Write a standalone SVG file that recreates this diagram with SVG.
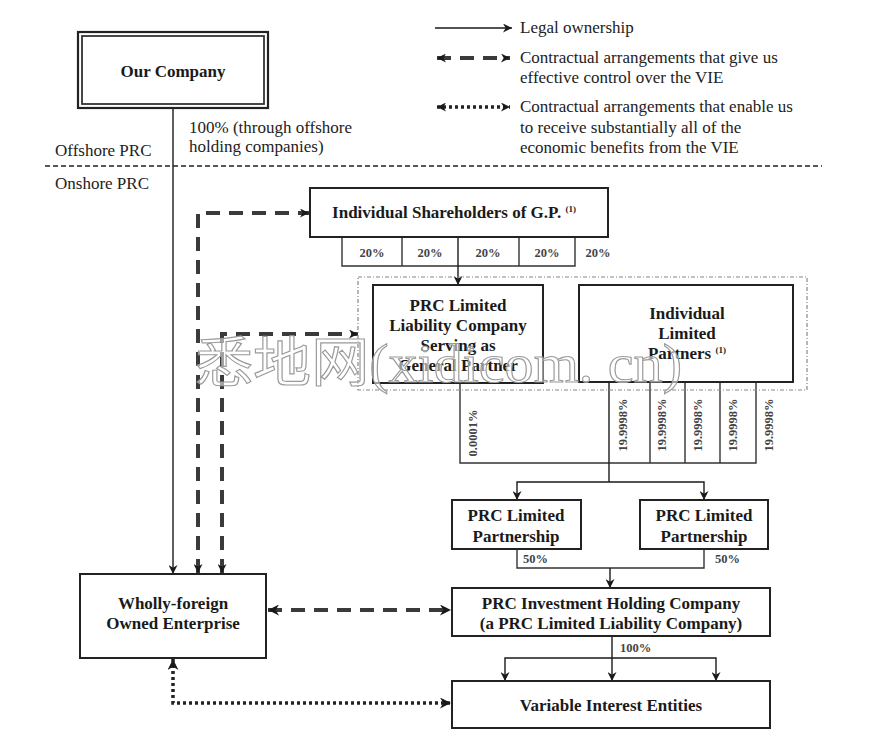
<svg xmlns="http://www.w3.org/2000/svg" width="880" height="744" viewBox="0 0 880 744">
  <defs>
    <marker id="tip" viewBox="0 0 10 10" refX="10" refY="5" markerWidth="9" markerHeight="9" markerUnits="userSpaceOnUse" orient="auto-start-reverse">
      <path d="M0,0 L10,5 L0,10 L3,5 z" fill="#1a1a1a"/>
    </marker>
    <marker id="tipBig" viewBox="0 0 10 10" refX="10" refY="5" markerWidth="11" markerHeight="11" markerUnits="userSpaceOnUse" orient="auto-start-reverse">
      <path d="M0,0 L10,5 L0,10 L3,5 z" fill="#1a1a1a"/>
    </marker>
  </defs>
  <style>
    .box { fill: #fff; stroke: #222; stroke-width: 2; }
    .lbl { font-family: "Liberation Serif", "Times New Roman", serif; font-weight: bold; font-size: 17px; fill: #1a1a1a; text-anchor: middle; }
    .sup { font-size: 9px; }
    .leg { font-family: "Liberation Serif", "Times New Roman", serif; font-size: 17px; fill: #222; }
    .pct { font-family: "Liberation Serif", "Times New Roman", serif; font-size: 12.5px; fill: #444; font-weight: bold; }
    .own { fill: none; stroke: #1a1a1a; stroke-width: 1.4; }
    .share { fill: none; stroke: #333; stroke-width: 1.4; }
    .ctrl { fill: none; stroke: #3a3a3a; stroke-width: 4; stroke-dasharray: 14 9; }
    .benefit { fill: none; stroke: #222; stroke-width: 3.5; stroke-dasharray: 3 3; }
  </style>
  <rect width="880" height="744" fill="#fff"/>

  <!-- legend -->
  <g id="legend">
    <line x1="435" y1="28" x2="512" y2="28" class="own" marker-end="url(#tip)"/>
    <text x="520" y="33" class="leg">Legal ownership</text>
    <line x1="437" y1="58" x2="510" y2="58" class="ctrl" stroke-dasharray="12 8" marker-start="url(#tip)" marker-end="url(#tip)"/>
    <text x="520" y="63" class="leg">Contractual arrangements that give us</text>
    <text x="520" y="83" class="leg">effective control over the VIE</text>
    <line x1="437" y1="107" x2="510" y2="107" class="benefit" marker-start="url(#tip)" marker-end="url(#tip)"/>
    <text x="520" y="112" class="leg">Contractual arrangements that enable us</text>
    <text x="520" y="133" class="leg">to receive substantially all of the</text>
    <text x="520" y="153" class="leg">economic benefits from the VIE</text>
  </g>

  <!-- offshore / onshore boundary -->
  <g id="boundary">
    <line x1="45" y1="166" x2="822" y2="166" stroke="#222" stroke-width="1.6" stroke-dasharray="5 3"/>
    <text x="55" y="156" class="leg">Offshore PRC</text>
    <text x="55" y="189" class="leg">Onshore PRC</text>
  </g>

  <!-- connectors -->
  <g id="connectors">
    <!-- Our Company to WFOE -->
    <line x1="173" y1="108" x2="173" y2="574" class="own" marker-end="url(#tip)"/>
    <text x="189" y="133" class="leg" font-size="17.5">100% (through offshore</text>
    <text x="189" y="152" class="leg" font-size="17.5">holding companies)</text>

    <!-- control agreements from WFOE -->
    <path d="M198,573 L198,213 L309,213" class="ctrl" marker-start="url(#tip)" marker-end="url(#tip)"/>
    <path d="M222,573 L222,334 L358,334" class="ctrl" marker-start="url(#tip)" marker-end="url(#tip)"/>
    <line x1="268" y1="610" x2="451" y2="610" class="ctrl" marker-start="url(#tipBig)" marker-end="url(#tipBig)"/>
    <path d="M173,659 L173,703 L451,703" class="benefit" marker-start="url(#tipBig)" marker-end="url(#tipBig)"/>

    <!-- shareholders of G.P. -->
    <path d="M342,237 V266 H575 V237 M402,237 V266 M519,237 V266" class="share"/>
    <line x1="458" y1="237" x2="458" y2="285" class="own" marker-end="url(#tip)"/>
    <text x="372" y="257" class="pct" text-anchor="middle">20%</text>
    <text x="430" y="257" class="pct" text-anchor="middle">20%</text>
    <text x="488" y="257" class="pct" text-anchor="middle">20%</text>
    <text x="547" y="257" class="pct" text-anchor="middle">20%</text>
    <text x="598" y="257" class="pct" text-anchor="middle">20%</text>

    <!-- partnership interests -->
    <path d="M460,383 V463 H756 V382 M650,382 V463 M685,382 V463 M720,382 V463" class="share"/>
    <line x1="609" y1="382" x2="609" y2="482" class="own"/>
    <path d="M517,500 V482 H704 V500" class="own" marker-start="url(#tip)" marker-end="url(#tip)"/>
    <text transform="translate(477,433) rotate(-90)" class="pct" text-anchor="middle">0.0001%</text>
    <text transform="translate(627,425) rotate(-90)" class="pct" text-anchor="middle">19.9998%</text>
    <text transform="translate(666,425) rotate(-90)" class="pct" text-anchor="middle">19.9998%</text>
    <text transform="translate(702,425) rotate(-90)" class="pct" text-anchor="middle">19.9998%</text>
    <text transform="translate(737,425) rotate(-90)" class="pct" text-anchor="middle">19.9998%</text>
    <text transform="translate(773,425) rotate(-90)" class="pct" text-anchor="middle">19.9998%</text>

    <!-- limited partnerships to holding company -->
    <path d="M517,549 V568 H704 V549" class="share"/>
    <line x1="610" y1="568" x2="610" y2="588" class="own" marker-end="url(#tip)"/>
    <text x="523" y="563" class="pct">50%</text>
    <text x="715" y="563" class="pct">50%</text>

    <!-- holding company to VIEs -->
    <line x1="612" y1="636" x2="612" y2="681" class="own" marker-end="url(#tip)"/>
    <path d="M505,681 V658 H716 V681" class="own" marker-start="url(#tip)" marker-end="url(#tip)"/>
    <text x="620" y="652" class="pct">100%</text>
  </g>

  <!-- nodes -->
  <g id="our-company">
    <rect x="78" y="32" width="190" height="76" fill="#fff" stroke="#222" stroke-width="2.2"/>
    <rect x="82" y="36" width="182" height="68" fill="none" stroke="#333" stroke-width="1.8"/>
    <text x="173" y="77" class="lbl" font-size="17.5">Our Company</text>
  </g>

  <g id="gp-shareholders">
    <rect x="310" y="188" width="298" height="49" class="box"/>
    <text x="454" y="218" class="lbl" font-size="16">Individual Shareholders of G.P. <tspan class="sup" dy="-6">(1)</tspan></text>
  </g>

  <g id="partnership-group">
    <rect x="358" y="277" width="449" height="113" fill="none" stroke="#888" stroke-width="1.2" stroke-dasharray="4 2 1 2"/>
  </g>

  <g id="general-partner">
    <rect x="373" y="285" width="170" height="98" class="box"/>
    <text x="458" y="311" class="lbl">PRC Limited</text>
    <text x="458" y="331" class="lbl">Liability Company</text>
    <text x="458" y="351" class="lbl">Serving as</text>
    <text x="458" y="371" class="lbl">General Partner</text>
  </g>

  <g id="limited-partners">
    <rect x="579" y="285" width="214" height="97" class="box"/>
    <text x="687" y="319" class="lbl">Individual</text>
    <text x="687" y="339" class="lbl">Limited</text>
    <text x="687" y="359" class="lbl">Partners <tspan class="sup" dy="-6">(1)</tspan></text>
  </g>

  <g id="lp-left">
    <rect x="452" y="500" width="129" height="49" class="box"/>
    <text x="516" y="521" class="lbl">PRC Limited</text>
    <text x="516" y="542" class="lbl">Partnership</text>
  </g>

  <g id="lp-right">
    <rect x="640" y="500" width="128" height="49" class="box"/>
    <text x="704" y="521" class="lbl">PRC Limited</text>
    <text x="704" y="542" class="lbl">Partnership</text>
  </g>

  <g id="wfoe">
    <rect x="80" y="574" width="186" height="84" class="box"/>
    <text x="173" y="609" class="lbl">Wholly-foreign</text>
    <text x="173" y="629" class="lbl">Owned Enterprise</text>
  </g>

  <g id="holding-company">
    <rect x="452" y="588" width="318" height="48" class="box"/>
    <text x="611" y="609" class="lbl" font-size="17.5">PRC Investment Holding Company</text>
    <text x="611" y="629" class="lbl" font-size="17.5">(a PRC Limited Liability Company)</text>
  </g>

  <g id="vie">
    <rect x="452" y="681" width="318" height="47" class="box"/>
    <text x="611" y="711" class="lbl" font-size="18">Variable Interest Entities</text>
  </g>

  <!-- site mark -->
  <text x="195" y="382" textLength="487" lengthAdjust="spacingAndGlyphs" font-family="'Liberation Serif', 'Noto Sans CJK SC', serif" font-size="54" fill="#fff" fill-opacity="0.55" stroke="#9a9a9a" stroke-width="1.1">悉地网(xidicom. cn)</text>
</svg>
